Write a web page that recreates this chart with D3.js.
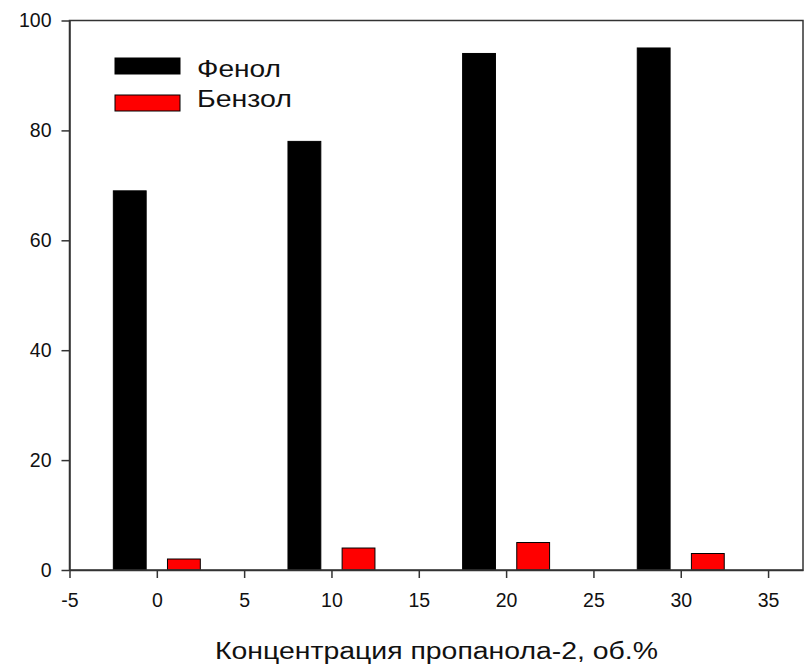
<!DOCTYPE html>
<html>
<head>
<meta charset="utf-8">
<script src="https://cdn.jsdelivr.net/npm/d3@7"></script>
<style>
html,body{margin:0;padding:0;background:#fff;}
svg{display:block;font-family:"Liberation Sans",Arial,sans-serif;}
</style>
</head>
<body>
<svg id="chart" width="809" height="670"></svg>
<script>
const concentrations = [0, 10, 20, 30];
const phenol = [69, 78, 94, 95];
const benzene = [2, 4, 5, 3];
const seriesNames = ["Фенол", "Бензол"];
const seriesColors = ["#000000", "#ff0000"];
const xTicks = [-5, 0, 5, 10, 15, 20, 25, 30, 35];
const yTicks = [0, 20, 40, 60, 80, 100];
const xTitle = "Концентрация пропанола-2, об.%";

const svg = d3.select("#chart");
const mLeft = 69.5, mRight = 803, mTop = 20.5, mBottom = 570;
const x = d3.scaleLinear().domain([-5, 37]).range([mLeft, mRight]);
const y = d3.scaleLinear().domain([0, 100]).range([mBottom, mTop]);

const barW = 1.88, offset = 1.55;
const series = [phenol, benzene];

series.forEach((vals, si) => {
  const off = si === 0 ? -offset : offset;
  svg.append("g").selectAll("rect").data(vals).join("rect")
    .attr("x", (d, i) => x(concentrations[i] + off - barW / 2))
    .attr("width", x(barW) - x(0))
    .attr("y", d => y(d))
    .attr("height", d => y(0) - y(d))
    .attr("fill", seriesColors[si])
    .attr("stroke", "#000")
    .attr("stroke-width", 1);
});

// frame
const axisColor = "#333";
svg.append("rect").attr("x", mLeft).attr("y", mTop).attr("width", mRight - mLeft).attr("height", mBottom - mTop)
  .attr("fill", "none").attr("stroke", axisColor).attr("stroke-width", 1.5);

const fmt = d => d < 0 ? "-" + Math.abs(d) : String(d);
const xAxis = svg.append("g").attr("transform", `translate(0,${mBottom})`)
  .call(d3.axisBottom(x).tickValues(xTicks).tickFormat(fmt).tickSize(8).tickPadding(15.5).tickSizeOuter(0));
const yAxis = svg.append("g").attr("transform", `translate(${mLeft},0)`)
  .call(d3.axisLeft(y).tickValues(yTicks).tickFormat(fmt).tickSize(8).tickPadding(10).tickSizeOuter(0));
[xAxis, yAxis].forEach(g => {
  g.select(".domain").attr("stroke", axisColor).attr("stroke-width", 1.5);
  g.selectAll(".tick line").attr("stroke", axisColor).attr("stroke-width", 1.5);
  g.selectAll(".tick text").attr("font-size", 19.5).attr("fill", "#111")
    .attr("font-family", "'Liberation Sans', Arial, sans-serif");
});

svg.append("text").attr("x", 436.5).attr("y", 659).attr("text-anchor", "middle")
  .attr("font-size", 23.5).attr("fill", "#111")
  .attr("textLength", 443).attr("lengthAdjust", "spacingAndGlyphs").text(xTitle);

// legend
const legendWidths = [84, 95];
const leg = svg.append("g");
seriesNames.forEach((name, i) => {
  const cy = 66 + i * 37;
  leg.append("rect").attr("x", 115).attr("y", cy - 8).attr("width", 65).attr("height", 16)
    .attr("fill", seriesColors[i]).attr("stroke", "#000").attr("stroke-width", 1);
  leg.append("text").attr("x", 197).attr("y", 76.7 + i * 30.6)
    .attr("font-size", 23).attr("fill", "#111")
    .attr("textLength", legendWidths[i]).attr("lengthAdjust", "spacingAndGlyphs").text(name);
});
</script>
</body>
</html>
